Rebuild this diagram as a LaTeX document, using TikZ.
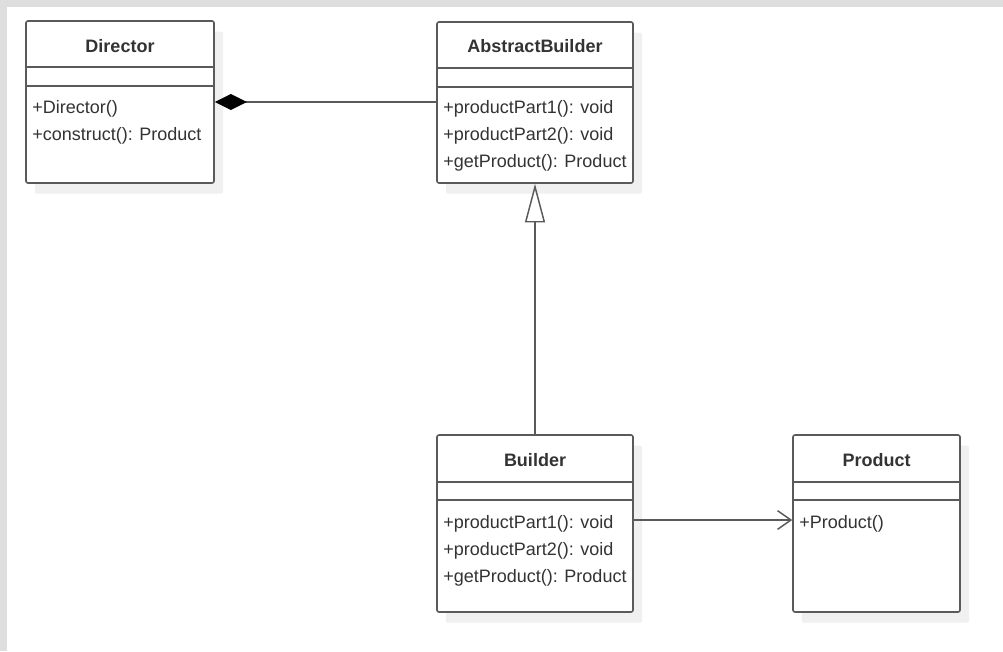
\documentclass[tikz,border=0pt]{standalone}
\usepackage{fontspec}
\setmainfont{Liberation Sans}
\usetikzlibrary{arrows.meta,fit,shadows}
\definecolor{framegrey}{HTML}{DEDEDE}
\definecolor{shadegrey}{HTML}{F0F0F0}
\definecolor{linegrey}{HTML}{5A5A5A}
\definecolor{textgrey}{HTML}{333333}
\tikzset{
  classbox/.style={draw=linegrey,line width=1.2pt,fill=white,rounded corners=1.5pt,inner sep=0pt,
    general shadow={fill=shadegrey,shadow xshift=6.75pt,shadow yshift=-8pt}},
  classname/.style={anchor=base,inner sep=0pt,text=textgrey,font=\fontsize{13.5}{16}\selectfont\bfseries},
  classop/.style={anchor=base west,inner sep=0pt,text=textgrey,font=\fontsize{13.5}{16}\selectfont},
  sepline/.style={draw=linegrey,line width=1.2pt},
  link/.style={draw=linegrey,line width=1.1pt}
}
\begin{document}
\begin{tikzpicture}[x=0.75pt,y=-0.75pt]
\useasboundingbox (0,0) rectangle (1003,651);
\fill[framegrey] (0,0) rectangle (1003,651);
\fill[white] (7,7) rectangle (1003,651);

% Director
\node[classbox,fit={(26,21) (214,183)}] (director) {};
\draw[sepline] (director.west |- 0,67) -- (director.east |- 0,67);
\draw[sepline] (director.west |- 0,86) -- (director.east |- 0,86);
\node[classname] (directorname) at (director.north |- 0,52) {Director};
\node[classop] (directorop1) at (32,113) {+Director()};
\node[classop] (directorop2) at (32,140) {+construct(): Product};

% AbstractBuilder
\node[classbox,fit={(437,22) (633,183)}] (abstract) {};
\draw[sepline] (abstract.west |- 0,68) -- (abstract.east |- 0,68);
\draw[sepline] (abstract.west |- 0,87) -- (abstract.east |- 0,87);
\node[classname] (abstractname) at (abstract.north |- 0,52) {AbstractBuilder};
\node[classop] (abstractop1) at (443,113) {+productPart1(): void};
\node[classop] (abstractop2) at (443,140) {+productPart2(): void};
\node[classop] (abstractop3) at (443,167) {+getProduct(): Product};

% Builder
\node[classbox,fit={(437,435) (633,612)}] (builder) {};
\draw[sepline] (builder.west |- 0,482) -- (builder.east |- 0,482);
\draw[sepline] (builder.west |- 0,500) -- (builder.east |- 0,500);
\node[classname] (buildername) at (builder.north |- 0,466) {Builder};
\node[classop] (builderop1) at (443,528) {+productPart1(): void};
\node[classop] (builderop2) at (443,555) {+productPart2(): void};
\node[classop] (builderop3) at (443,582) {+getProduct(): Product};

% Product
\node[classbox,fit={(793,435) (960,612)}] (product) {};
\draw[sepline] (product.west |- 0,482) -- (product.east |- 0,482);
\draw[sepline] (product.west |- 0,500) -- (product.east |- 0,500);
\node[classname] (productname) at (product.north |- 0,466) {Product};
\node[classop] (productop1) at (799,528) {+Product()};

% relations
\draw[link,{Diamond[length=24pt,width=12pt,color=black,fill=black]}-] (director.east |- 0,102) -- (abstract.west |- 0,102);
\draw[link,-{Triangle[open,length=29pt,width=15pt]}] (builder.north) -- (abstract.south);
\draw[link,-{Straight Barb[length=10pt,width=14pt]}] (builder.east |- 0,520) -- (product.west |- 0,520);
\end{tikzpicture}
\end{document}
